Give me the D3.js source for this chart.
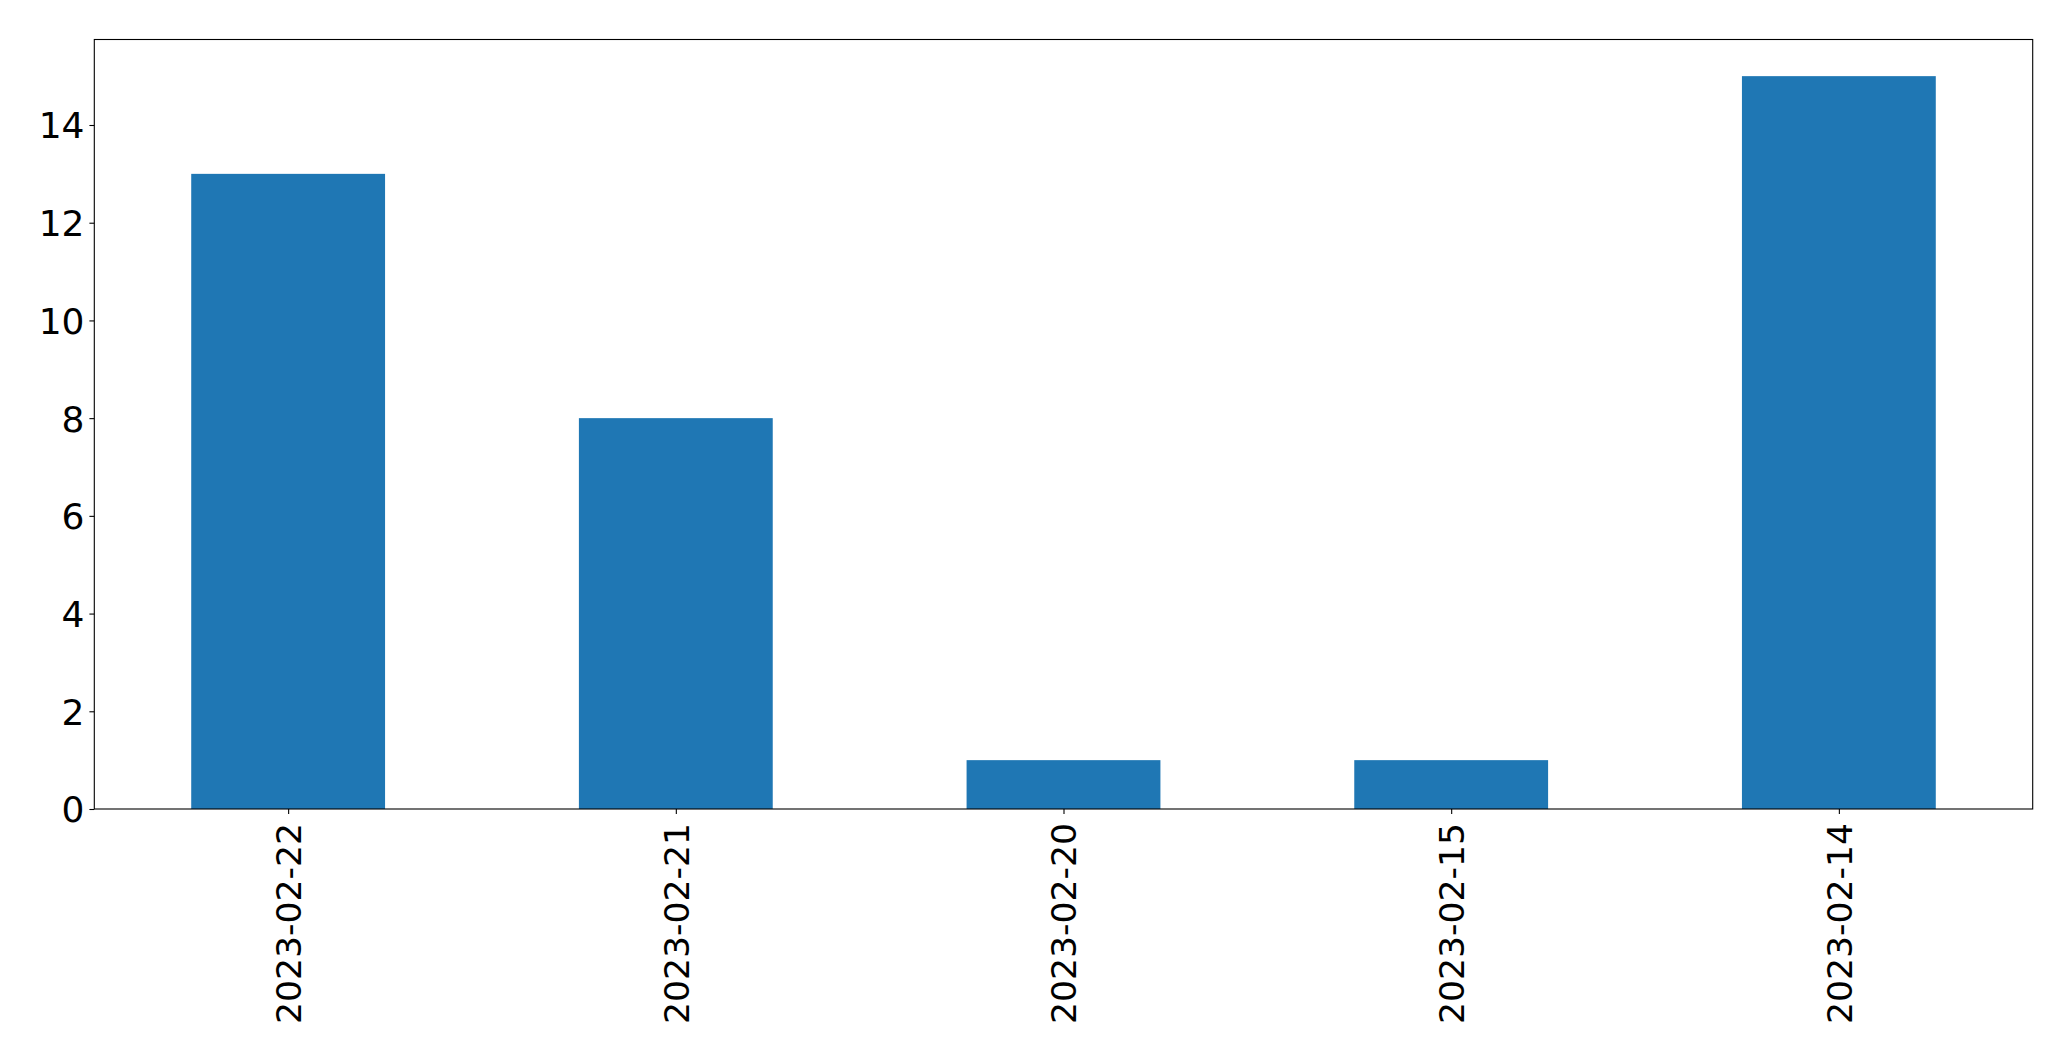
<!DOCTYPE html>
<html>
<head>
<meta charset="utf-8">
<script src="https://cdn.jsdelivr.net/npm/d3@7"></script>
<style>
  html, body { margin: 0; padding: 0; background: #fff; }
  svg { display: block; }
  text { font-family: "DejaVu Sans", sans-serif; fill: #000; }
</style>
</head>
<body>
<svg id="chart" width="2071" height="1061"></svg>
<script>
const categories = ["2023-02-22", "2023-02-21", "2023-02-20", "2023-02-15", "2023-02-14"];
const values = [13, 8, 1, 1, 15];
const yTicks = [0, 2, 4, 6, 8, 10, 12, 14];

const W = 2071, H = 1061;
const margin = { left: 94.3, right: W - 2032.7, top: 39.5, bottom: H - 809 };
const iw = W - margin.left - margin.right;
const ih = H - margin.top - margin.bottom;

const svg = d3.select("#chart");
const g = svg.append("g").attr("transform", `translate(${margin.left},${margin.top})`);

// linear x scale mimicking matplotlib categorical positions (-0.5 .. n-0.5)
const x = d3.scaleLinear().domain([-0.5, categories.length - 0.5]).range([0, iw]);
const y = d3.scaleLinear().domain([0, d3.max(values) * 1.05]).range([ih, 0]);
const barW = 0.5;

g.selectAll("rect.bar")
  .data(values)
  .enter().append("rect")
  .attr("class", "bar")
  .attr("x", (d, i) => x(i - barW / 2))
  .attr("width", (d, i) => x(i + barW / 2) - x(i - barW / 2))
  .attr("y", d => y(d))
  .attr("height", d => y(0) - y(d))
  .attr("fill", "#1f77b4");

// Y axis
const yAxis = d3.axisLeft(y).tickValues(yTicks).tickSize(4.9).tickPadding(4.9).tickFormat(d3.format("d"));
const ya = g.append("g").call(yAxis);
ya.select(".domain").remove();
ya.selectAll(".tick line").attr("stroke", "#000").attr("stroke-width", 1.1);
ya.selectAll(".tick text")
  .style("font-size", "36px")
  .attr("dy", "0.36em");

// X axis
const xAxis = d3.axisBottom(x).tickValues(d3.range(categories.length)).tickSize(4.9).tickPadding(0)
  .tickFormat(i => categories[i]);
const xa = g.append("g").attr("transform", `translate(0,${ih})`).call(xAxis);
xa.select(".domain").remove();
xa.selectAll(".tick line").attr("stroke", "#000").attr("stroke-width", 1.1);
xa.selectAll(".tick text")
  .style("font-size", "34.6px")
  .attr("text-anchor", "end")
  .attr("transform", "translate(0,14) rotate(-90)")
  .attr("x", 0)
  .attr("y", 0)
  .attr("dy", "0.36em");

// Frame
g.append("rect")
  .attr("x", 0).attr("y", 0)
  .attr("width", iw).attr("height", ih)
  .attr("fill", "none")
  .attr("stroke", "#000")
  .attr("stroke-width", 1.1);
</script>
</body>
</html>
